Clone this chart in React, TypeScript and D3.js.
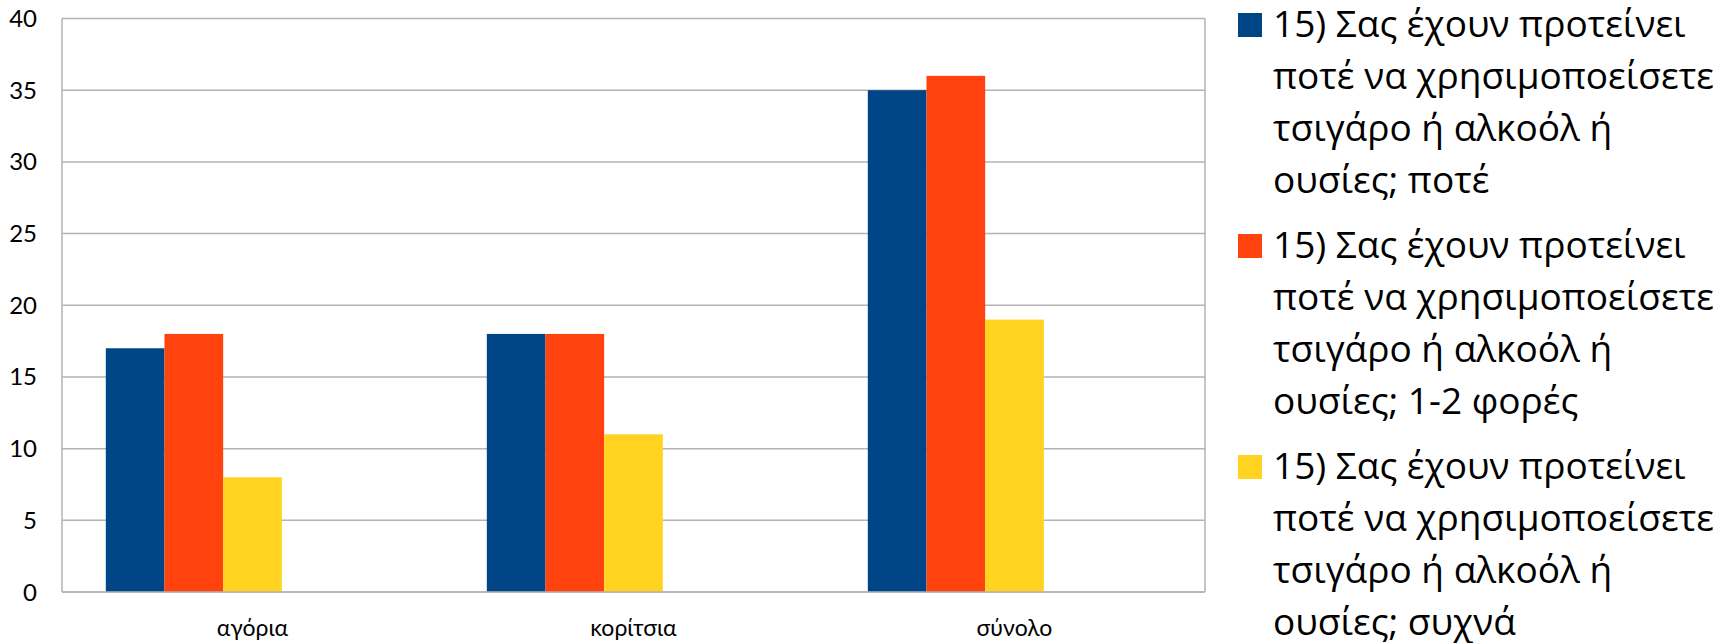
import React from "react";
import * as d3 from "d3";

// Groups along the x axis
const categories: string[] = ["αγόρια", "κορίτσια", "σύνολο"];

// Legend labels, one per series, already broken into lines
const seriesLabels: string[][] = [
  ["15) Σας έχουν προτείνει", "ποτέ να χρησιμοποείσετε", "τσιγάρο ή αλκοόλ ή", "ουσίες; ποτέ"],
  ["15) Σας έχουν προτείνει", "ποτέ να χρησιμοποείσετε", "τσιγάρο ή αλκοόλ ή", "ουσίες; 1-2 φορές"],
  ["15) Σας έχουν προτείνει", "ποτέ να χρησιμοποείσετε", "τσιγάρο ή αλκοόλ ή", "ουσίες; συχνά"],
];

// Counts per group for each answer
const neverValues: number[] = [17, 18, 35];
const onceTwiceValues: number[] = [18, 18, 36];
const oftenValues: number[] = [8, 11, 19];

const seriesColors: string[] = ["#004586", "#ff420e", "#ffd320"];

// Y axis ticks
const yTicks: number[] = [0, 5, 10, 15, 20, 25, 30, 35, 40];

const WIDTH = 1735;
const HEIGHT = 643;
const AXIS_FONT = "Lato, 'Open Sans', sans-serif";
const LEGEND_FONT = "'Open Sans', Lato, sans-serif";

export default function App() {
  const series = [neverValues, onceTwiceValues, oftenValues];

  const plotLeft = 62;
  const plotRight = 1205;
  const plotTop = 18.5;
  const plotBottom = 592;

  const x0 = d3
    .scaleBand<string>()
    .domain(categories)
    .range([plotLeft, plotRight])
    .paddingInner(0.23)
    .paddingOuter(0.115);

  // each group reserves five bar slots; the series occupy the leading ones
  const slots = d3.range(5).map(String);
  const x1 = d3.scaleBand<string>().domain(slots).range([0, x0.bandwidth()]);

  const y = d3.scaleLinear().domain([0, 40]).range([plotBottom, plotTop]);

  const gridColor = "#b3b3b3";

  const legendX = 1238;
  const legendTextX = 1273;
  const legendFirstBaseline = 37;
  const lineStep = 52;
  const itemStep = 221;

  return (
    <svg
      width={WIDTH}
      height={HEIGHT}
      style={{ position: "absolute", left: 0, top: 0, display: "block", background: "#fff" }}
      fontFamily={AXIS_FONT}
    >
      <rect x={0} y={0} width={WIDTH} height={HEIGHT} fill="#fff" />

      {/* horizontal gridlines */}
      {yTicks.map((t) => (
        <line
          key={`g${t}`}
          x1={plotLeft}
          x2={plotRight}
          y1={y(t)}
          y2={y(t)}
          stroke={gridColor}
          strokeWidth={1.5}
        />
      ))}

      {/* plot frame sides */}
      <line x1={plotLeft} x2={plotLeft} y1={plotTop} y2={plotBottom} stroke={gridColor} strokeWidth={1.5} />
      <line x1={plotRight} x2={plotRight} y1={plotTop} y2={plotBottom} stroke={gridColor} strokeWidth={1.5} />

      {/* bars */}
      {series.map((vals, si) =>
        vals.map((v, ci) => {
          const bx = (x0(categories[ci]) ?? 0) + (x1(slots[si]) ?? 0);
          return (
            <rect
              key={`b${si}-${ci}`}
              x={bx}
              y={y(v)}
              width={x1.bandwidth()}
              height={y(0) - y(v)}
              fill={seriesColors[si]}
            />
          );
        })
      )}

      {/* baseline */}
      <line x1={plotLeft} x2={plotRight} y1={y(0)} y2={y(0)} stroke={gridColor} strokeWidth={1.5} />

      {/* y tick labels */}
      {yTicks.map((t) => (
        <text key={`t${t}`} x={37} y={y(t) + 8.5} textAnchor="end" fontSize={24} fill="#000">
          {t}
        </text>
      ))}

      {/* category labels */}
      {categories.map((c) => (
        <text
          key={c}
          x={(x0(c) ?? 0) + x0.bandwidth() / 2}
          y={636}
          textAnchor="middle"
          fontSize={23}
          fill="#000"
        >
          {c}
        </text>
      ))}

      {/* legend */}
      <g fontFamily={LEGEND_FONT}>
        {seriesLabels.map((lines, i) => {
          const base = legendFirstBaseline + i * itemStep;
          return (
            <g key={`l${i}`}>
              <rect x={legendX} y={base - 24} width={24} height={24} fill={seriesColors[i]} />
              {lines.map((ln, k) => (
                <text key={k} x={legendTextX} y={base + k * lineStep} fontSize={37} fill="#000">
                  {ln}
                </text>
              ))}
            </g>
          );
        })}
      </g>
    </svg>
  );
}
